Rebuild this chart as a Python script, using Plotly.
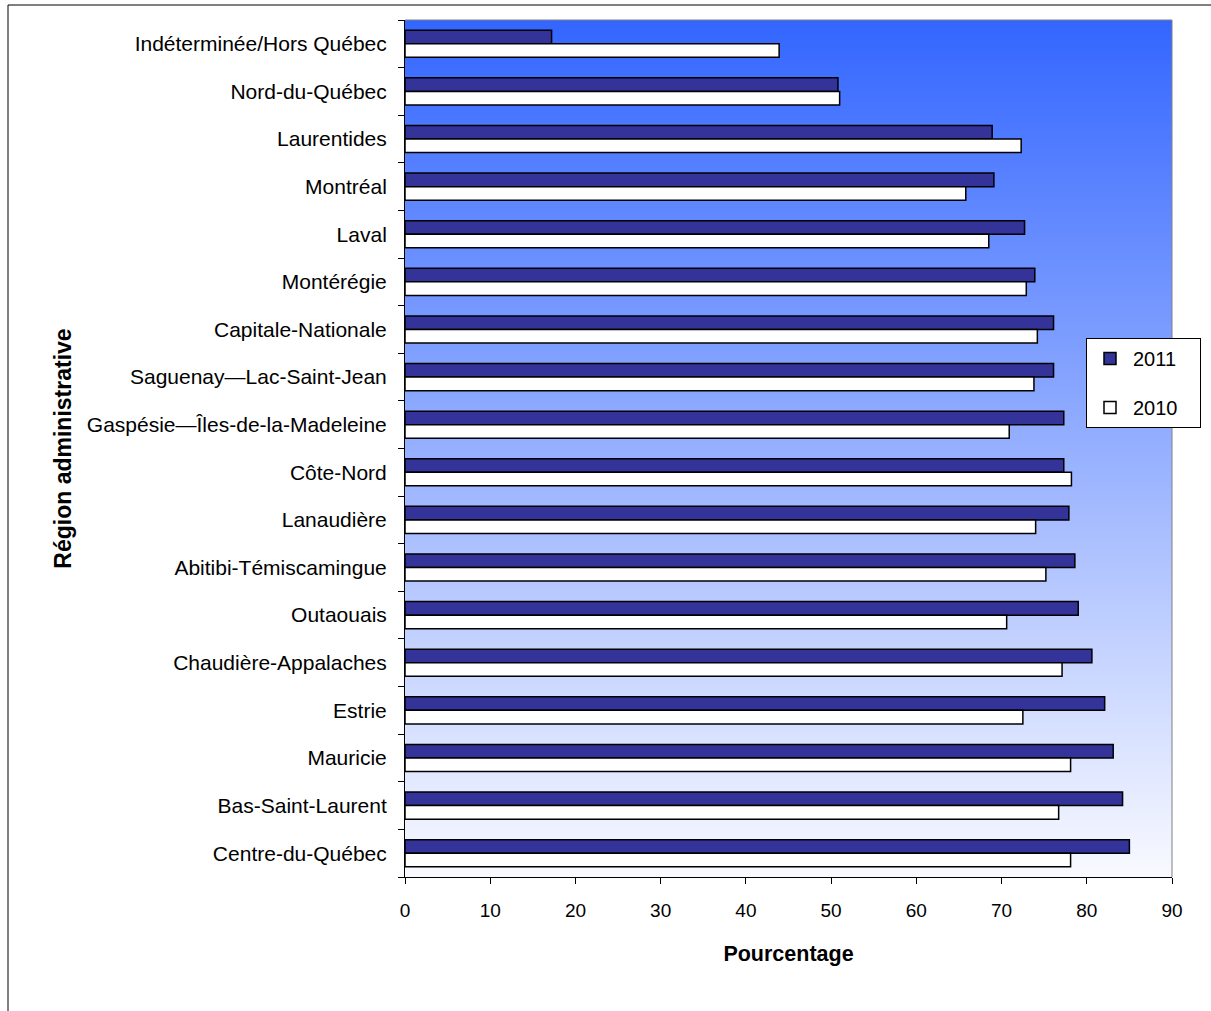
import numpy as np
import plotly.graph_objects as go

# Regions listed top to bottom
regions = [
    "Indéterminée/Hors Québec",
    "Nord-du-Québec",
    "Laurentides",
    "Montréal",
    "Laval",
    "Montérégie",
    "Capitale-Nationale",
    "Saguenay—Lac-Saint-Jean",
    "Gaspésie—Îles-de-la-Madeleine",
    "Côte-Nord",
    "Lanaudière",
    "Abitibi-Témiscamingue",
    "Outaouais",
    "Chaudière-Appalaches",
    "Estrie",
    "Mauricie",
    "Bas-Saint-Laurent",
    "Centre-du-Québec",
]

pct_2011 = [17.2, 50.8, 68.9, 69.1, 72.7, 73.9, 76.1, 76.1, 77.3, 77.3,
            77.9, 78.6, 79.0, 80.6, 82.1, 83.1, 84.2, 85.0]
pct_2010 = [43.9, 51.0, 72.3, 65.8, 68.5, 72.9, 74.2, 73.8, 70.9, 78.2,
            74.0, 75.2, 70.6, 77.1, 72.5, 78.1, 76.7, 78.1]

x_ticks = [0, 10, 20, 30, 40, 50, 60, 70, 80, 90]

FONT = "Liberation Sans, Arial, sans-serif"
W, H = 1211, 1011
L, R, T, B = 405, 1172, 20, 877  # plot area in pixels

pos = list(range(len(regions)))
n = len(regions)

# trailing no-break spaces widen the legend box on the right
LEG_PAD = "\u00a0" * 3

fig = go.Figure()

# vertical gradient background of the plot area
gy = np.linspace(-0.5, n - 0.5, 400)
gz = [[1 - (v + 0.5) / n] * 2 for v in gy]
fig.add_trace(go.Heatmap(
    x=[0, 90], y=gy, z=gz,
    colorscale=[[0, "#F9FAFF"], [1, "#3366FF"]],
    showscale=False, hoverinfo="skip", zmin=0, zmax=1,
))

fig.add_trace(go.Bar(
    y=pos, x=pct_2011, orientation="h", name="2011" + LEG_PAD,
    marker=dict(color="#333399", line=dict(color="black", width=1.5)),
    legendgroup="a",
))
fig.add_trace(go.Bar(
    y=pos, x=pct_2010, orientation="h", name="2010" + LEG_PAD,
    marker=dict(color="white", line=dict(color="black", width=1.5)),
    legendgroup="b",
))

def px_x(p):
    return (p - L) / (R - L)

def px_y(p):
    return (B - p) / (B - T)

fig.update_layout(
    width=W, height=H,
    margin=dict(l=L, r=W - R, t=T, b=H - B, pad=0, autoexpand=False),
    paper_bgcolor="white",
    plot_bgcolor="white",
    barmode="group",
    bargap=0.43,
    bargroupgap=0,
    font=dict(family=FONT, size=20, color="black"),
    showlegend=True,
    legend=dict(
        xref="container", yref="container",
        x=1086 / W, y=(H - 338) / H, xanchor="left", yanchor="top",
        bgcolor="white", bordercolor="black", borderwidth=1,
        font=dict(size=20, family=FONT),
        traceorder="grouped", tracegroupgap=20,
        itemwidth=36,
    ),
    xaxis=dict(
        range=[0, 90], tickmode="array", tickvals=x_ticks,
        ticks="outside", ticklen=6, tickcolor="black",
        showline=True, linecolor="black", linewidth=1,
        showgrid=False, zeroline=False,
        tickfont=dict(size=19, family=FONT),
        ticklabelstandoff=10,
        title=dict(text="<b>Pourcentage</b>", font=dict(size=21.5, family=FONT), standoff=26),
        fixedrange=True,
    ),
    yaxis=dict(
        range=[n - 0.5, -0.5], tickmode="array", tickvals=pos, ticktext=regions,
        ticks="", showline=True, linecolor="black", linewidth=1,
        showgrid=False, zeroline=False,
        tickfont=dict(size=21, family=FONT),
        ticklabelstandoff=13,
        minor=dict(tick0=-0.5, dtick=1, ticks="outside", ticklen=6, tickcolor="black"),
        title=dict(text="<b>Région administrative</b>", font=dict(size=23, family=FONT), standoff=8),
        fixedrange=True,
    ),
    shapes=[
        # top and right edges of the plot area
        dict(type="line", xref="paper", yref="paper", x0=0, x1=1, y0=1, y1=1,
             line=dict(color="#808080", width=1)),
        dict(type="line", xref="paper", yref="paper", x0=1, x1=1, y0=0, y1=1,
             line=dict(color="#808080", width=1)),
        # outer chart frame
        dict(type="rect", xref="paper", yref="paper",
             x0=px_x(8), x1=px_x(1240), y0=px_y(1040), y1=px_y(5),
             line=dict(color="black", width=1), fillcolor="rgba(0,0,0,0)"),
    ],
)

fig.write_html("out.html")
